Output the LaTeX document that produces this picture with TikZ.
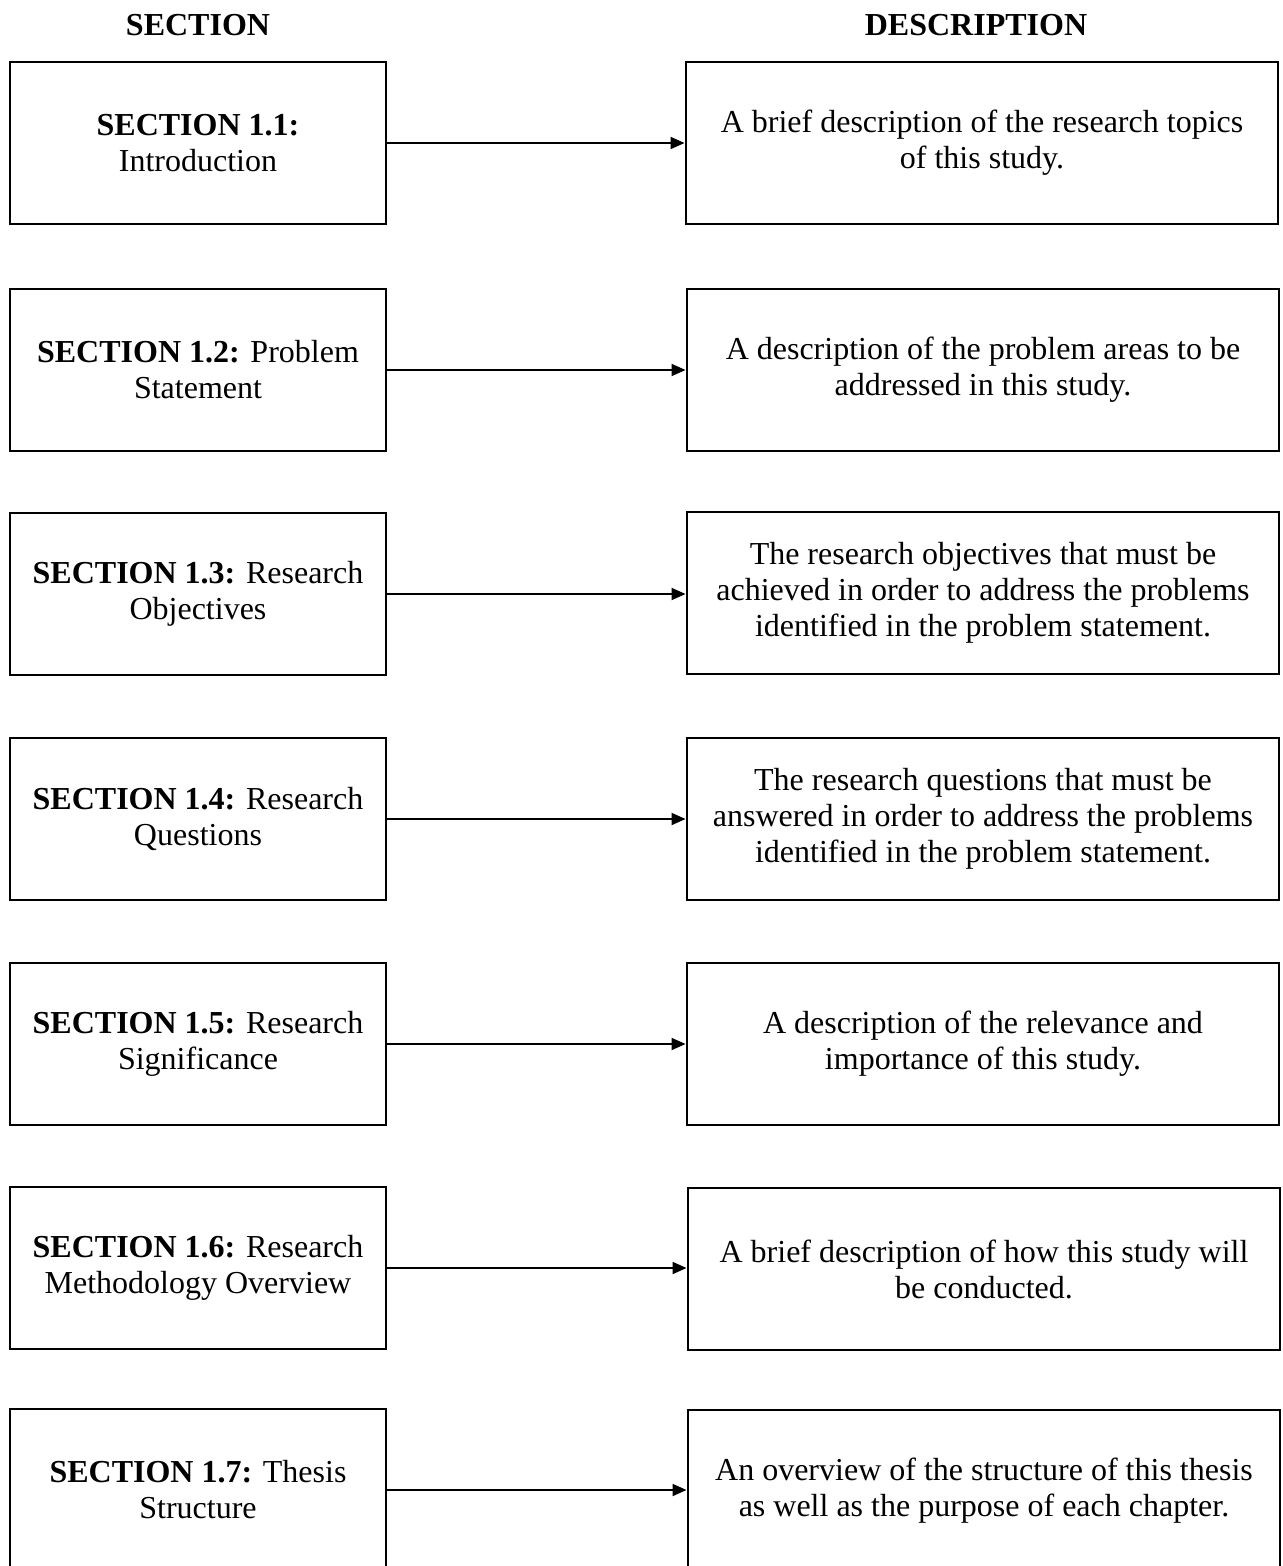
\documentclass[tikz,border=0pt]{standalone}
\usepackage{fontspec}
\setmainfont{Liberation Serif}
\usetikzlibrary{arrows.meta}
\begin{document}
\begin{tikzpicture}[x=0.75pt,y=-0.75pt,
  every node/.style={font=\fontsize{24pt}{27pt}\selectfont, align=center, inner sep=0pt},
  secbox/.style={draw, line width=2.2pt, minimum width=282pt, minimum height=121.5pt},
  descbox/.style={draw, line width=2.2pt, minimum width=444pt, minimum height=121.5pt},
  head/.style={font=\fontsize{24pt}{27pt}\selectfont\bfseries},
  link/.style={line width=1.4pt, -{Triangle[length=10.5pt,width=9pt]}}]
\useasboundingbox (0,0) rectangle (1282,1566);
\fill[white] (0,0) rectangle (1282,1566);

% column headings
\node[head] (hsec) at (198,25) {SECTION};
\node[head] (hdesc) at (976,25) {DESCRIPTION};

% section boxes (left column)
\node[secbox] (s1) at (198,143)  {\textbf{SECTION 1.1:}\\Introduction};
\node[secbox] (s2) at (198,370)  {\textbf{SECTION 1.2:} Problem\\Statement};
\node[secbox] (s3) at (198,594)  {\textbf{SECTION 1.3:} Research\\Objectives};
\node[secbox] (s4) at (198,819)  {\textbf{SECTION 1.4:} Research\\Questions};
\node[secbox] (s5) at (198,1044) {\textbf{SECTION 1.5:} Research\\Significance};
\node[secbox] (s6) at (198,1268) {\textbf{SECTION 1.6:} Research\\Methodology Overview};
\node[secbox] (s7) at (198,1490) {\textbf{SECTION 1.7:} Thesis\\Structure};

% description boxes (right column)
\node[descbox] (d1) at (982,143)  {A brief description of the research topics\\of this study.};
\node[descbox] (d2) at (983,370)  {A description of the problem areas to be\\addressed in this study.};
\node[descbox] (d3) at (983,593)  {The research objectives that must be\\achieved in order to address the problems\\identified in the problem statement.};
\node[descbox] (d4) at (983,819)  {The research questions that must be\\answered in order to address the problems\\identified in the problem statement.};
\node[descbox] (d5) at (983,1044) {A description of the relevance and\\importance of this study.};
\node[descbox] (d6) at (984,1269) {A brief description of how this study will\\be conducted.};
\node[descbox] (d7) at (984,1491) {An overview of the structure of this thesis\\as well as the purpose of each chapter.};

% connectors
\foreach \i in {1,...,7}
  \draw[link] (s\i.east) -- (s\i.east -| d\i.west);
\end{tikzpicture}
\end{document}
